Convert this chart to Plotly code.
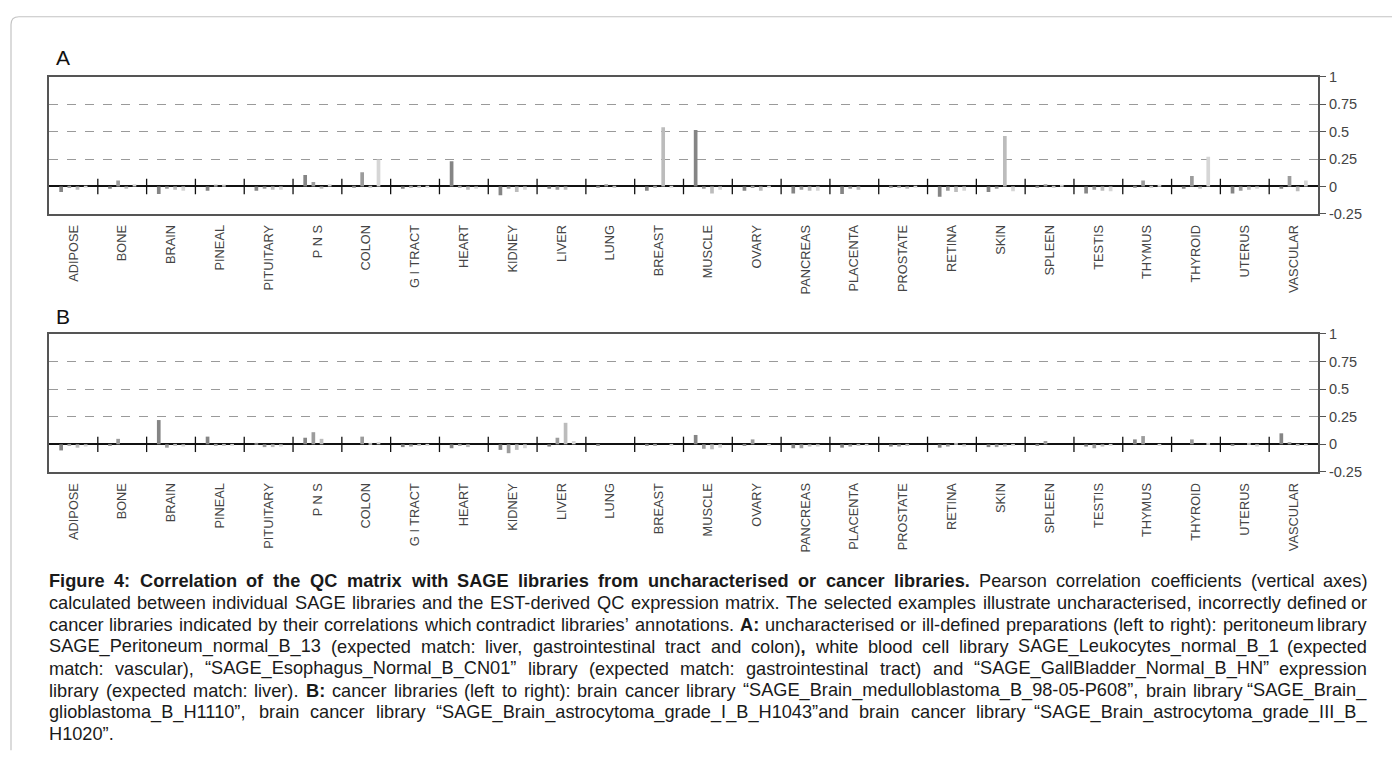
import plotly.graph_objects as go

categories = ["ADIPOSE", "BONE", "BRAIN", "PINEAL", "PITUITARY", "P N S", "COLON", "G I TRACT",
              "HEART", "KIDNEY", "LIVER", "LUNG", "BREAST", "MUSCLE", "OVARY", "PANCREAS",
              "PLACENTA", "PROSTATE", "RETINA", "SKIN", "SPLEEN", "TESTIS", "THYMUS",
              "THYROID", "UTERUS", "VASCULAR"]

# Panel A: uncharacterised / ill-defined libraries (left to right in each group)
a_peritoneum = [-0.05, -0.02, -0.07, -0.04, -0.04, 0.105, -0.01, -0.02, 0.23, -0.08, -0.02, -0.01, -0.04,
                0.515, -0.04, -0.065, -0.07, -0.01, -0.095, -0.05, -0.01, -0.065, -0.01, -0.02, -0.065, -0.02]
a_leukocytes = [-0.015, 0.055, -0.02, 0.01, -0.02, 0.04, 0.13, -0.01, -0.01, -0.02, -0.03, 0.02, -0.01,
                -0.02, -0.015, -0.03, -0.02, -0.01, -0.04, -0.02, 0.02, -0.03, 0.055, 0.095, -0.04, 0.095]
a_esophagus = [-0.03, -0.02, -0.03, 0.01, -0.03, -0.02, -0.01, -0.01, -0.03, -0.05, -0.03, -0.01, 0.54,
               -0.065, -0.04, -0.04, -0.03, -0.02, -0.05, 0.46, -0.01, -0.04, -0.01, -0.02, -0.03, -0.045]
a_gallbladder = [-0.01, 0.02, -0.04, 0.0, -0.03, 0.02, 0.245, -0.01, -0.02, -0.03, 0.0, 0.0, -0.01,
                 -0.03, -0.01, -0.04, 0.0, -0.01, -0.04, -0.045, 0.01, -0.045, 0.01, 0.27, -0.02, 0.055]

# Panel B: cancer libraries (left to right in each group)
b_medulloblastoma = [-0.055, -0.01, 0.22, 0.07, 0.01, 0.06, 0.0, -0.025, -0.035, -0.05, -0.02, -0.01, -0.01,
                     0.085, -0.01, -0.035, -0.03, -0.02, -0.03, -0.025, -0.01, -0.02, 0.045, 0.0, -0.01, 0.1]
b_glioblastoma = [-0.01, 0.05, -0.03, -0.01, -0.025, 0.11, 0.07, -0.02, -0.01, -0.08, 0.06, 0.0, -0.01,
                  -0.04, 0.045, -0.035, -0.02, -0.02, -0.02, -0.025, 0.03, -0.035, 0.075, 0.045, 0.0, 0.02]
b_astro_I = [-0.03, 0.0, -0.01, -0.01, -0.025, 0.05, 0.01, -0.01, -0.025, -0.05, 0.195, 0.0, 0.0,
             -0.045, 0.0, -0.02, -0.01, -0.01, 0.01, -0.02, 0.0, -0.02, 0.0, 0.0, 0.01, -0.01]
b_astro_III = [-0.02, 0.0, -0.02, -0.01, -0.02, 0.0, 0.02, -0.01, 0.0, -0.035, 0.03, 0.0, -0.01,
               -0.03, -0.01, -0.02, -0.01, 0.0, -0.02, -0.01, 0.0, -0.01, -0.01, 0.01, -0.02, -0.01]

y_tickvals = [-0.25, 0, 0.25, 0.5, 0.75, 1]
y_ticktext = ["-0.25", "0", "0.25", "0.5", "0.75", "1"]

bar_colors = ["#858585", "#9c9c9c", "#bcbcbc", "#d6d6d6"]

caption_lines = [
    "<b>Figure 4: Correlation of the QC matrix with SAGE libraries from uncharacterised or cancer libraries.</b> Pearson correlation coefficients (vertical axes)",
    "calculated between individual SAGE libraries and the EST-derived QC expression matrix.  The selected examples illustrate uncharacterised, incorrectly defined or",
    "cancer libraries indicated by their correlations which contradict libraries’ annotations. <b>A:</b> uncharacterised or ill-defined preparations (left to right): peritoneum library",
    "SAGE_Peritoneum_normal_B_13 (expected match: liver, gastrointestinal tract and colon)<b>,</b> white blood cell library SAGE_Leukocytes_normal_B_1 (expected",
    "match: vascular), “SAGE_Esophagus_Normal_B_CN01” library (expected match: gastrointestinal tract) and “SAGE_GallBladder_Normal_B_HN” expression",
    "library (expected match: liver). <b>B:</b> cancer libraries (left to right): brain cancer library “SAGE_Brain_medulloblastoma_B_98-05-P608”, brain library “SAGE_Brain_",
    "glioblastoma_B_H1110”, brain cancer library “SAGE_Brain_astrocytoma_grade_I_B_H1043”and brain cancer library “SAGE_Brain_astrocytoma_grade_III_B_",
    "H1020”.",
]

# ---------------------------------------------------------------- geometry
W, H = 1384, 743
OX, OY = 8, 16      # offset of the figure inside the page
SY = 0.978          # vertical scale of the photographed page


def px_x(p):
    return (p - OX) / W


def px_y(p):
    return 1 - ((p + 0.4) / SY - OY) / H


fig = go.Figure()

x_idx = list(range(len(categories)))
boundaries = [i + 0.5 for i in range(len(categories) - 1)]

panels = [
    ("x", "y", [a_peritoneum, a_leukocytes, a_esophagus, a_gallbladder]),
    ("x2", "y2", [b_medulloblastoma, b_glioblastoma, b_astro_I, b_astro_III]),
]
for xa, ya, series in panels:
    for k, vals in enumerate(series):
        fig.add_trace(go.Bar(x=x_idx, y=vals, marker=dict(color=bar_colors[k], line=dict(width=0)),
                             xaxis=xa, yaxis=ya, showlegend=False, hoverinfo="skip"))
    fig.add_trace(go.Scatter(x=boundaries, y=[0] * len(boundaries), mode="markers",
                             marker=dict(symbol="line-ns", size=11, line=dict(color="#111", width=1.3)),
                             xaxis=xa, yaxis=ya, showlegend=False, hoverinfo="skip"))

xdomain = [px_x(49), px_x(1318)]
common_x = dict(range=[-0.5, 25.5], tickmode="array", tickvals=x_idx, ticktext=categories,
                tickangle=-90, showgrid=False, zeroline=False, showline=True, mirror=True,
                linecolor="#555", linewidth=2, ticks="outside", ticklen=4, tickcolor="rgba(0,0,0,0)",
                tickfont=dict(family="Liberation Sans, Arial", size=12.8, color="#444"), domain=xdomain)
common_y = dict(range=[-0.25, 1], tickmode="array", tickvals=y_tickvals, ticktext=y_ticktext,
                side="right", showgrid=True, gridcolor="#9a9a9a", griddash="dash", gridwidth=1,
                zeroline=True, zerolinecolor="#111", zerolinewidth=1.5, showline=True, mirror=True,
                linecolor="#555", linewidth=2, ticks="outside", ticklen=6, tickcolor="#555",
                tickfont=dict(family="Liberation Sans, Arial", size=14.5, color="#444"))

fig.update_layout(
    width=W, height=H, margin=dict(l=0, r=0, t=0, b=0),
    paper_bgcolor="white", plot_bgcolor="white",
    barmode="group", bargap=0.33, bargroupgap=0.55,
    xaxis=dict(common_x, anchor="y"),
    yaxis=dict(common_y, anchor="x", domain=[px_y(213), px_y(76)]),
    xaxis2=dict(common_x, anchor="y2"),
    yaxis2=dict(common_y, anchor="x2", domain=[px_y(471), px_y(333)]),
)

annotations = [
    dict(text="A", x=px_x(54), y=px_y(57), xref="paper", yref="paper", xanchor="left", yanchor="middle",
         showarrow=False, font=dict(family="Liberation Sans, Arial", size=21, color="#111")),
    dict(text="B", x=px_x(54), y=px_y(316), xref="paper", yref="paper", xanchor="left", yanchor="middle",
         showarrow=False, font=dict(family="Liberation Sans, Arial", size=21, color="#111")),
]

# ---------------------------------------------------------------- justified caption
REG = {' ': 278, '"': 355, "'": 191, '(': 333, ')': 333, ',': 278, '-': 333, '.': 278, '/': 278,
       ':': 278, ';': 278, '_': 556, '“': 333, '”': 333, '’': 222,
       'A': 667, 'B': 667, 'C': 722, 'D': 722, 'E': 667, 'F': 611, 'G': 778, 'H': 722, 'I': 278,
       'J': 500, 'K': 667, 'L': 556, 'M': 833, 'N': 722, 'O': 778, 'P': 667, 'Q': 778, 'R': 722,
       'S': 667, 'T': 611, 'U': 722, 'V': 667, 'W': 944, 'X': 667, 'Y': 667, 'Z': 611,
       'a': 556, 'b': 556, 'c': 500, 'd': 556, 'e': 556, 'f': 278, 'g': 556, 'h': 556, 'i': 222,
       'j': 222, 'k': 500, 'l': 222, 'm': 833, 'n': 556, 'o': 556, 'p': 556, 'q': 556, 'r': 333,
       's': 500, 't': 278, 'u': 556, 'v': 500, 'w': 722, 'x': 500, 'y': 500, 'z': 500}
BOLD = dict(REG)
BOLD.update({':': 333, 'A': 722, 'B': 722, 'J': 556, 'K': 722, 'L': 611, 'b': 611, 'c': 556,
             'd': 611, 'f': 333, 'g': 611, 'h': 611, 'i': 278, 'j': 278, 'k': 556, 'l': 278,
             'm': 889, 'n': 611, 'o': 611, 'p': 611, 'q': 611, 'r': 389, 's': 556, 't': 333,
             'u': 611, 'v': 556, 'w': 778, 'x': 556, 'y': 556})
CAP_SIZE = 18.2
CAP_FONT = "Liberation Sans, Arial"


def parse(line):
    chars, bold, i = [], False, 0
    while i < len(line):
        if line.startswith("<b>", i):
            bold, i = True, i + 3
        elif line.startswith("</b>", i):
            bold, i = False, i + 4
        else:
            chars.append((line[i], bold))
            i += 1
    words, cur = [], []
    for c, b in chars:
        if c == " ":
            if cur:
                words.append(cur)
            cur = []
        else:
            cur.append((c, b))
    if cur:
        words.append(cur)
    return words


def word_markup(word):
    out, prev = "", False
    for c, b in word:
        if b and not prev:
            out += "<b>"
        if prev and not b:
            out += "</b>"
        out += c
        prev = b
    if prev:
        out += "</b>"
    return out


def word_width(word):
    return sum((BOLD if b else REG).get(c, 556) for c, b in word) / 1000 * CAP_SIZE


cap_left, cap_right = 48, 1368
for li, line in enumerate(caption_lines):
    words = parse(line)
    ypos = px_y(580 + li * 21.9)
    widths = [word_width(w) for w in words]
    justify = li < len(caption_lines) - 1 and len(words) > 1
    if justify:
        gap = (cap_right - cap_left - sum(widths)) / (len(words) - 1)
    else:
        gap = REG[' '] / 1000 * CAP_SIZE
    x = cap_left
    for wi, w in enumerate(words):
        last = justify and wi == len(words) - 1
        annotations.append(dict(text=word_markup(w), x=px_x(cap_right if last else x), y=ypos,
                                xref="paper", yref="paper", xanchor="right" if last else "left",
                                yanchor="middle", showarrow=False, borderpad=0,
                                font=dict(family=CAP_FONT, size=CAP_SIZE, color="#1a1a1a")))
        x += widths[wi] + gap

fig.update_layout(annotations=annotations)

# ---------------------------------------------------------------- outer rounded frame
fx0, fy0 = px_x(11), 0.999
r_x, r_y = 8 / W, 8 / H
frame_path = (f"M {fx0:.5f},-0.01 L {fx0:.5f},{fy0 - r_y:.5f} "
              f"Q {fx0:.5f},{fy0:.5f} {fx0 + r_x:.5f},{fy0:.5f} L 1.01,{fy0:.5f}")
fig.add_shape(type="path", path=frame_path, xref="paper", yref="paper",
              line=dict(color="#c4c4c4", width=1.2), layer="below")

fig.write_html("out.html")
